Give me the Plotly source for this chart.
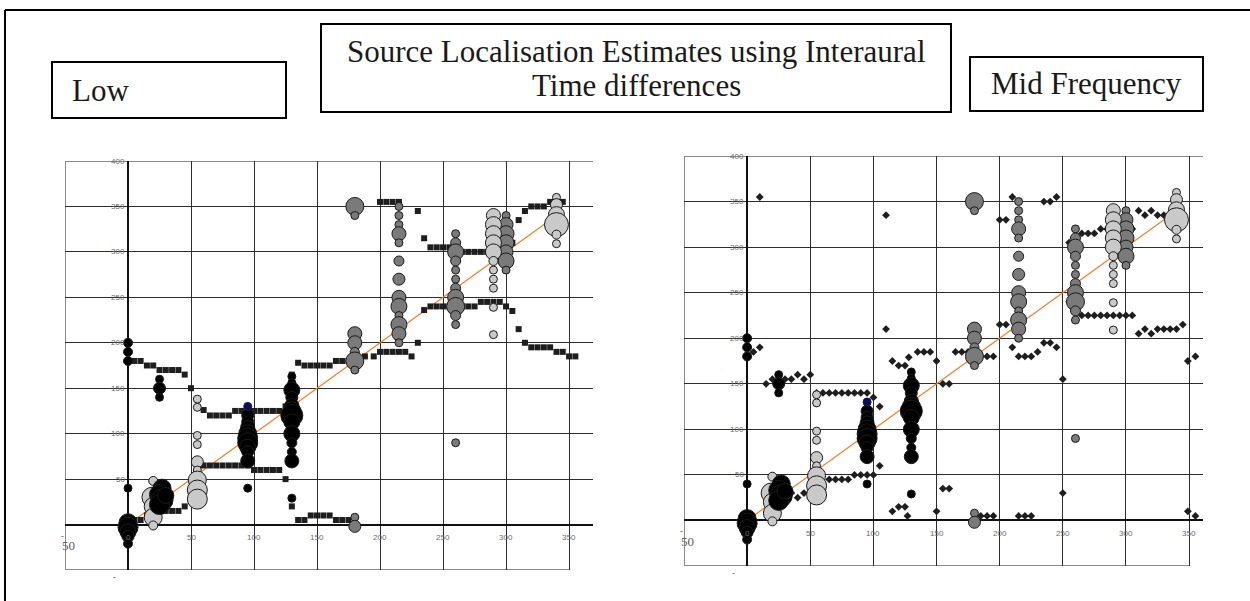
import plotly.graph_objects as go

W, H = 1250, 601

# ---------------- data ----------------
# bubble series shared by both panels (x = true azimuth, y = estimate, s = relative weight)
black_x = [0, 0, 0, 0, 0, 0, 0, 0, 0,
           25, 25, 25, 27, 25, 27, 25, 30,
           95, 95, 95, 95, 95, 95, 95, 95, 95, 95,
           130, 130, 130, 130, 130, 130, 130, 130, 130, 130, 130, 130, 130]
black_y = [200, 190, 180, 40, 2, -3, -8, -13, -21,
           160, 150, 140, 40, 33, 27, 22, 32,
           120, 113, 107, 100, 95, 90, 85, 80, 70, 40,
           163, 156, 148, 140, 131, 125, 120, 113, 100, 90, 80, 70, 29]
black_s = [9, 9, 9, 8, 18, 20, 16, 12, 9,
           8, 12, 8, 18, 20, 22, 20, 16,
           12, 12, 14, 18, 20, 20, 16, 12, 14, 8,
           8, 8, 16, 12, 14, 18, 22, 16, 16, 10, 9, 14, 8]

navy_x = [95]
navy_y = [130]
navy_s = [8]

light_x = [20, 19, 20, 20, 20,
           55, 55, 55, 55, 55, 55, 55, 55, 55,
           290, 290, 290, 290, 290, 290, 290, 290, 290, 290, 290,
           340, 340, 340, 340, 340, 340]
light_y = [48, 30, 20, 8, -1,
           138, 129, 98, 88, 69, 60, 49, 38, 28,
           340, 330, 320, 310, 300, 290, 280, 270, 260, 239, 209,
           360, 352, 341, 330, 319, 309]
light_s = [9, 20, 18, 18, 9,
           8, 8, 8, 8, 12, 8, 18, 20, 20,
           14, 16, 16, 16, 16, 9, 8, 8, 8, 8, 8,
           8, 12, 16, 24, 9, 8]

mid_x = [180, 180, 180, 180, 180, 180, 180, 180, 180,
         215, 215, 215, 215, 215, 215, 215, 215, 215, 215, 215, 215, 215,
         260, 260, 260, 260, 260, 260, 260, 260, 260, 260, 260, 260,
         300, 300, 300, 300, 300, 300, 300]
mid_y = [350, 340, 210, 200, 190, 180, 170, 8, -2,
         350, 340, 330, 320, 310, 290, 270, 250, 240, 230, 220, 210, 200,
         320, 310, 300, 290, 280, 270, 260, 250, 240, 230, 220, 90,
         340, 330, 320, 310, 300, 290, 280]
mid_s = [18, 8, 14, 14, 9, 18, 8, 8, 12,
         8, 8, 8, 14, 8, 10, 12, 14, 16, 8, 16, 14, 8,
         8, 10, 16, 10, 8, 8, 10, 16, 18, 10, 8, 8,
         8, 14, 16, 16, 14, 16, 8]

# Low-frequency estimates (squares, left panel)
low_x = [5, 10, 15, 20, 25, 30, 35, 40, 45, 50, 60, 65, 70, 75, 80,
         85, 90, 95, 100, 105, 110, 115, 120, 125, 130,
         135, 140, 145, 150, 155, 160, 165, 170, 175, 188, 195,
         200, 205, 210, 215, 220, 225, 230, 235,
         240, 245, 250, 255, 260, 265, 270, 275, 280, 285, 290, 295,
         300, 305, 310, 315, 320, 325, 330, 335, 340, 345, 350, 355,
         200, 205, 210, 215, 230, 235, 240, 245, 250, 255,
         260, 265, 270, 275, 280, 285, 290, 295, 300, 305, 310, 315,
         320, 325, 330, 335, 340, 345,
         5, 10, 15, 20, 25, 30, 35, 40, 45, 50,
         60, 65, 70, 75, 80, 85, 90, 95, 100, 105, 110, 115, 120, 125, 130,
         135, 140, 145, 150, 155, 160, 165, 170, 175]
low_y = [180, 180, 175, 175, 170, 170, 170, 170, 165, 150, 126, 120, 120, 120, 120,
         125, 125, 125, 125, 125, 125, 125, 125, 130, 165,
         178, 175, 175, 175, 175, 175, 180, 180, 180, 185, 185,
         190, 190, 190, 190, 190, 185, 200, 236,
         240, 240, 240, 240, 240, 240, 240, 240, 245, 245, 245, 245,
         240, 235, 215, 200, 195, 195, 195, 195, 190, 190, 185, 185,
         355, 355, 355, 355, 345, 315, 305, 305, 305, 305,
         300, 300, 300, 300, 300, 300, 300, 300, 300, 310, 335, 345,
         350, 350, 350, 355, 355, 355,
         5, 5, 10, 10, 15, 15, 15, 15, 20, 30,
         65, 65, 65, 65, 65, 65, 65, 65, 60, 60, 60, 60, 60, 50, 20,
         5, 5, 10, 10, 10, 10, 5, 5, 5]

# Mid-frequency estimates (diamonds, right panel)
mid_est_x = [10, 110, 110, 5, 10,
             15, 20, 30, 35, 40, 45, 50,
             55, 60, 65, 70, 75, 80, 85, 90, 95, 100, 105, 105,
             65, 70, 75, 80, 85, 90, 95, 100,
             15, 20, 30, 35, 40, 45, 50,
             115, 120, 125, 127, 150, 155, 160,
             150, 155, 160, 115, 120, 125, 128, 135, 140, 145,
             165, 170, 175, 185, 190, 195,
             210, 215, 220, 225, 230, 235, 240, 245, 200, 205,
             210, 235, 240, 245, 200, 205, 255,
             265, 270, 275, 280, 285, 290, 295, 300, 305,
             310, 315, 320, 325, 330, 345,
             255, 265, 270, 275, 280, 285, 290, 295, 300, 305,
             310, 315, 320, 325, 330, 335, 340, 345,
             355, 250, 250, 349,
             185, 190, 195, 215, 220, 225, 349, 355]
mid_est_y = [355, 335, 210, 185, 190,
             150, 155, 155, 155, 160, 155, 160,
             140, 140, 140, 140, 140, 140, 140, 140, 140, 135, 125, 60,
             45, 45, 45, 45, 50, 50, 50, 50,
             35, 30, 30, 30, 25, 30, 25,
             10, 15, 15, 5, 10, 35, 35,
             175, 150, 150, 175, 170, 170, 179, 185, 185, 185,
             185, 185, 185, 180, 180, 180,
             190, 180, 180, 180, 185, 195, 195, 190, 215, 215,
             355, 350, 350, 355, 330, 330, 305,
             315, 315, 315, 320, 320, 320, 320, 320, 320,
             340, 335, 340, 335, 335, 330,
             240, 225, 225, 225, 225, 225, 225, 225, 225, 225,
             205, 210, 205, 210, 210, 210, 210, 215,
             180, 155, 30, 175,
             5, 5, 5, 5, 5, 5, 10, 5]

# reference line (true = estimate)
ref_x = [0, 340]
ref_y = [0, 340]

grid_ticks = [0, 50, 100, 150, 200, 250, 300, 350]
y_ticks = [0, 50, 100, 150, 200, 250, 300, 350, 400]
x_tick_labels = ["0", "50", "100", "150", "200", "250", "300", "350"]
y_tick_labels = ["0", "50", "100", "150", "200", "250", "300", "350", "400"]

title_lines = ["Source Localisation Estimates using Interaural", "Time differences"]
left_label = "Low"
right_label = "Mid Frequency"

# ---------------- layout helpers ----------------
def fx(px):
    return px / W

def fy(py):
    return 1 - py / H

panels = [
    dict(xa="x", ya="y", dom_x=(65, 593), dom_y=(161, 570), xmax=369),
    dict(xa="x2", ya="y2", dom_x=(684, 1203), dom_y=(156, 566), xmax=361),
]

fig = go.Figure()

outline = dict(color="#1a1a1a", width=1)
tick_font = dict(family="Liberation Sans", size=8, color="#6a6a6a")

for i, p in enumerate(panels):
    xa, ya = p["xa"], p["ya"]
    fig.add_trace(go.Scatter(x=ref_x, y=ref_y, mode="lines",
                             line=dict(color="#ff7a1c", width=1.2),
                             xaxis=xa, yaxis=ya, showlegend=False, hoverinfo="skip"))
    if i == 0:
        fig.add_trace(go.Scatter(x=low_x, y=low_y, mode="markers",
                                 marker=dict(symbol="square", size=6, color="#1e1e1e",
                                             opacity=1, line=dict(width=0)),
                                 xaxis=xa, yaxis=ya, showlegend=False))
    else:
        fig.add_trace(go.Scatter(x=mid_est_x, y=mid_est_y, mode="markers",
                                 marker=dict(symbol="diamond", size=6, color="#1e1e1e",
                                             opacity=1, line=dict(width=0)),
                                 xaxis=xa, yaxis=ya, showlegend=False))
    fig.add_trace(go.Scatter(x=mid_x, y=mid_y, mode="markers",
                             marker=dict(size=mid_s, color="#7a7a7a", opacity=1, line=outline),
                             xaxis=xa, yaxis=ya, showlegend=False))
    fig.add_trace(go.Scatter(x=light_x, y=light_y, mode="markers",
                             marker=dict(size=light_s, color="#c9c9c9", opacity=1, line=outline),
                             xaxis=xa, yaxis=ya, showlegend=False))
    fig.add_trace(go.Scatter(x=black_x, y=black_y, mode="markers",
                             marker=dict(size=black_s, color="#000000", opacity=1, line=outline),
                             xaxis=xa, yaxis=ya, showlegend=False))
    fig.add_trace(go.Scatter(x=navy_x, y=navy_y, mode="markers",
                             marker=dict(size=navy_s, color="#0a0a6e", opacity=1, line=outline),
                             xaxis=xa, yaxis=ya, showlegend=False))

    # frame lines (left, bottom & top, gray)
    fig.add_shape(type="line", xref=xa, yref=ya, x0=-50, x1=-50, y0=-50, y1=400,
                  line=dict(color="#8a8a8a", width=2), layer="below")
    fig.add_shape(type="line", xref=xa, yref=ya, x0=-50, x1=350, y0=-50, y1=-50,
                  line=dict(color="#8a8a8a", width=2), layer="below")
    fig.add_shape(type="line", xref=xa, yref=ya, x0=-50, x1=p["xmax"], y0=400, y1=400,
                  line=dict(color="#8a8a8a", width=2), layer="below")

    # tick labels at the crossing axes
    for v, t in zip(y_ticks[1:], y_tick_labels[1:]):
        fig.add_annotation(x=0, y=v, xref=xa, yref=ya, text=t, showarrow=False,
                           xanchor="right", yanchor="middle", xshift=-1, font=tick_font)
    for v, t in zip(grid_ticks, x_tick_labels):
        fig.add_annotation(x=v, y=0, xref=xa, yref=ya, text=t, showarrow=False,
                           xanchor="center", yanchor="middle", yshift=-13, font=tick_font)
    fig.add_annotation(x=-50, y=0, xref=xa, yref=ya, text="50", showarrow=False,
                       xanchor="left", yanchor="middle", yshift=-21, xshift=-5,
                       font=dict(family="Liberation Serif", size=13, color="#5a5a5a"))
    fig.add_annotation(x=-50, y=0, xref=xa, yref=ya, text="-", showarrow=False,
                       xanchor="left", yanchor="middle", yshift=-11, xshift=-6,
                       font=dict(family="Liberation Sans", size=9, color="#5a5a5a"))
    fig.add_annotation(x=0, y=-50, xref=xa, yref=ya, text="-", showarrow=False,
                       xanchor="right", yanchor="top", xshift=-10, yshift=0,
                       font=dict(family="Liberation Sans", size=9, color="#5a5a5a"))

axis_common = dict(showgrid=True, gridcolor="#2c2c2c", gridwidth=1.3,
                   zeroline=True, zerolinecolor="#111111", zerolinewidth=1.6,
                   showticklabels=False, ticks="", showline=False, fixedrange=True)

layout = dict(
    width=W, height=H, margin=dict(l=0, r=0, t=0, b=0),
    paper_bgcolor="white", plot_bgcolor="white", showlegend=False,
)
for i, p in enumerate(panels):
    sfx = "" if i == 0 else str(i + 1)
    layout["xaxis" + sfx] = dict(axis_common, range=[-50, p["xmax"]], tickvals=grid_ticks,
                                 domain=[fx(p["dom_x"][0]), fx(p["dom_x"][1])],
                                 anchor="y" + sfx)
    layout["yaxis" + sfx] = dict(axis_common, range=[-50, 400], tickvals=y_ticks,
                                 domain=[fy(p["dom_y"][1]), fy(p["dom_y"][0])],
                                 anchor="x" + sfx)
fig.update_layout(**layout)

# page border (top & left)
fig.add_shape(type="line", xref="paper", yref="paper", x0=fx(5), x1=1, y0=fy(10), y1=fy(10),
              line=dict(color="black", width=2))
fig.add_shape(type="line", xref="paper", yref="paper", x0=fx(5), x1=fx(5), y0=fy(10), y1=0,
              line=dict(color="black", width=2))

# text boxes
boxes = [(52, 62, 286, 118), (321, 24, 951, 112), (970, 57, 1203, 111)]
for x0, y0, x1, y1 in boxes:
    fig.add_shape(type="rect", xref="paper", yref="paper",
                  x0=fx(x0), x1=fx(x1), y0=fy(y1), y1=fy(y0),
                  line=dict(color="black", width=2), fillcolor="white")

serif = dict(family="Liberation Serif, Times New Roman, serif", size=31, color="#1a1a1a")
fig.add_annotation(x=fx(70), y=fy(91), xref="paper", yref="paper", text=left_label,
                   showarrow=False, xanchor="left", yanchor="middle", font=serif)
for line_text, ly in zip(title_lines, [51, 86]):
    fig.add_annotation(x=fx(636), y=fy(ly), xref="paper", yref="paper", text=line_text,
                       showarrow=False, xanchor="center", yanchor="middle", font=serif)
fig.add_annotation(x=fx(1086), y=fy(84), xref="paper", yref="paper", text=right_label,
                   showarrow=False, xanchor="center", yanchor="middle", font=serif)

fig.write_html("out.html")
